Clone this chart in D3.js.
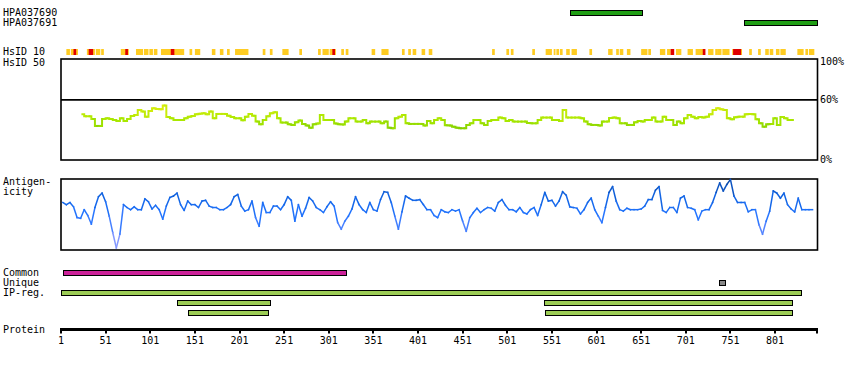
<!DOCTYPE html>
<html>
<head>
<meta charset="utf-8">
<script src="https://cdn.jsdelivr.net/npm/d3@7"></script>
<style>
  body { margin: 0; background: #fff; }
  svg text { font-family: 'DejaVu Sans Mono', monospace; font-size: 10px; fill: #000; }
</style>
</head>
<body>
<svg id="antigen" width="850" height="370"></svg>
<script>
const proteinLength = 848
const tickLabels = [1, 51, 101, 151, 201, 251, 301, 351, 401, 451, 501, 551, 601, 651, 701, 751, 801]

// antibodies: name, first and last residue
const antibodyNames = ['HPA037690', 'HPA037691']
const antibodyFrom = [572, 767]
const antibodyTo = [652, 848]

// HsID 10 strip, residue ranges
const hsid10Yellow = [[7, 10], [12, 19], [30, 38], [40, 44], [46, 48], [68, 76], [85, 92], [94, 98], [100, 103], [105, 108],
  [113, 138], [145, 147], [151, 156], [170, 173], [179, 182], [187, 189], [196, 210], [227, 229], [235, 237], [249, 255],
  [268, 270], [289, 291], [294, 300], [302, 308], [315, 317], [320, 322], [349, 352], [360, 367], [383, 385], [390, 392],
  [395, 398], [405, 408], [413, 416], [484, 486], [500, 502], [505, 507], [529, 531], [544, 550], [553, 554], [556, 558],
  [560, 562], [567, 570], [573, 578], [593, 595], [614, 618], [623, 625], [627, 630], [635, 638], [651, 657], [659, 661],
  [672, 677], [680, 683], [690, 695], [703, 708], [712, 720], [726, 731], [734, 736], [737, 740], [742, 749], [753, 763],
  [772, 774], [782, 784], [790, 793], [795, 798], [802, 805], [807, 812], [826, 832], [835, 837], [839, 844]]
const hsid10Red = [[15, 17], [32, 36], [73, 75], [124, 127], [305, 307], [684, 687], [720, 722], [754, 762]]

// HsID 50 identity (%), every 4 residues from residue 25
const hsid50Start = 25
const hsid50Values = [
  45.8, 43.8, 43.8, 41.1, 34.2, 34.2, 41.1, 41.8, 41.1, 40.1,
  39.1, 41.8, 39.1, 41.1, 44.1, 45.1, 50.1, 48.4, 43.4, 49.1,
  51.7, 51.1, 50.7, 54.4, 43.1, 41.8, 40.1, 40.1, 40.1, 41.8,
  43.4, 44.1, 45.8, 46.4, 46.8, 45.8, 48.4, 41.8, 46.1, 46.1,
  46.1, 44.4, 43.1, 41.8, 41.8, 39.8, 43.4, 46.1, 44.4, 38.5,
  35.8, 40.1, 43.8, 46.8, 47.7, 41.8, 37.5, 37.5, 35.8, 35.2,
  37.8, 39.5, 36.2, 34.5, 32.5, 35.8, 36.5, 45.1, 40.1, 40.1,
  40.1, 36.5, 35.8, 35.5, 38.5, 41.8, 41.8, 38.5, 38.5, 40.1,
  36.8, 38.5, 38.5, 38.5, 36.8, 38.5, 32.5, 31.9, 41.8, 43.4,
  45.1, 36.8, 36.2, 36.2, 36.2, 36.2, 34.5, 39.1, 36.8, 40.1,
  41.8, 40.1, 34.8, 34.5, 33.5, 32.5, 31.9, 31.9, 35.2, 36.8,
  40.1, 40.1, 36.8, 35.2, 39.1, 40.1, 40.1, 42.5, 41.8, 39.1,
  40.1, 38.5, 38.5, 38.5, 38.5, 37.2, 36.8, 36.8, 40.1, 42.5,
  42.5, 42.5, 40.1, 40.1, 39.1, 50.1, 42.5, 42.5, 42.5, 42.5,
  41.8, 38.5, 35.8, 35.2, 35.2, 34.5, 38.5, 38.5, 42.1, 42.5,
  41.8, 36.8, 36.8, 35.2, 35.2, 37.8, 39.1, 38.5, 40.1, 40.1,
  42.5, 38.5, 38.5, 43.4, 40.1, 40.1, 35.2, 38.5, 36.8, 41.8,
  45.1, 43.4, 41.8, 43.1, 42.5, 43.4, 45.8, 50.1, 51.7, 50.7,
  50.1, 41.8, 40.8, 42.8, 43.4, 43.4, 45.8, 46.1, 45.8, 40.8,
  36.8, 33.5, 35.8, 36.2, 41.8, 35.2, 43.1, 41.8, 40.1, 40.1
]

// antigenicity (relative, 0-100), every 4 residues from residue 3
const antigenStart = 3
const antigenValues = [
  66, 63, 66, 60, 45, 44, 56, 48, 36, 59, 74, 79, 67, 47, 24, 3, 22, 63, 59, 56,
  60, 56, 56, 71, 67, 57, 62, 56, 43, 61, 73, 75, 79, 63, 55, 68, 63, 63, 59, 68,
  69, 61, 59, 59, 56, 56, 59, 63, 74, 77, 61, 54, 56,
  68, 45, 33, 66, 52, 52, 61, 61, 56, 63, 74, 69, 40, 63, 47, 58, 73, 68, 59, 56,
  52, 60, 67, 61, 38, 29, 40, 47, 57, 74, 63, 56, 52, 66, 56, 54, 70, 81, 80, 66,
  47, 29, 53, 75, 72, 69, 69, 70, 63, 56, 56, 48, 45,
  56, 53, 52, 56, 54, 56, 40, 26, 45, 52, 58, 52, 56, 59, 58, 54, 66, 70, 62, 56,
  56, 53, 59, 52, 50, 56, 59, 48, 63, 80, 68, 69, 61, 68, 81, 76, 60, 59, 58, 50,
  56, 66, 72, 56, 47, 38, 59, 80, 88, 68, 56, 54, 58,
  56, 56, 56, 57, 61, 70, 70, 83, 88, 55, 52, 59, 59, 52, 72, 75, 59, 58, 56, 42,
  54, 56, 56, 66, 80, 93, 82, 91, 98, 75, 66, 66, 66, 53, 56, 56, 35, 22, 40, 54,
  82, 79, 72, 79, 63, 57, 53, 72, 56, 56, 56, 56
]

// feature rows below the plots
const commonRegions = [[4, 321]]
const uniqueRegions = [[739, 746]]
const ipRegions = [[[1, 831]], [[131, 236], [543, 821]], [[144, 234], [544, 820]]]

const svg = d3.select('svg#antigen')
const x = d3.scaleLinear().domain([1, proteinLength]).range([61, 817])

const yHsid = d3.scaleLinear().domain([0, 100]).range([160.4, 59.6])
const yAntigen = d3.scaleLinear().domain([0, 100]).range([250, 178])

const hsidColour = d3.scaleLinear().domain([30, 40, 55]).range(['#7ccc00', '#a8e800', '#e2ee10']).clamp(true)
const antigenColour = d3.scaleLinear()
  .domain([0, 25, 50, 75, 100])
  .range(['#a8a8ff', '#6088ff', '#2274ff', '#0f62e0', '#0a449e'])
  .clamp(true)

// left labels
const labels = [
  ['HPA037690', 16], ['HPA037691', 26], ['HsID 10', 55], ['HsID 50', 66],
  ['Antigen-', 185], ['icity', 195], ['Common', 276], ['Unique', 286], ['IP-reg.', 296], ['Protein', 333]
]
svg.selectAll('text.label')
  .data(labels)
  .join('text')
  .classed('label', true)
  .attr('x', 3)
  .attr('y', d => d[1])
  .text(d => d[0])

// antibody bars
function featureBar (sel, from, to, y, fill) {
  sel.append('rect')
    .attr('x', x(from))
    .attr('y', y)
    .attr('width', x(to) - x(from))
    .attr('height', 5)
    .attr('fill', fill)
    .attr('stroke', '#000')
    .attr('stroke-width', 1)
    .attr('shape-rendering', 'crispEdges')
}
antibodyNames.forEach((name, i) => featureBar(svg, antibodyFrom[i], antibodyTo[i], 10.5 + i * 10, '#1f9e14'))

// HsID 10 strip
function strip (ranges, colour) {
  svg.append('g').selectAll('rect')
    .data(ranges)
    .join('rect')
    .attr('x', d => x(d[0]))
    .attr('y', 49)
    .attr('width', d => x(d[1] + 1) - x(d[0]))
    .attr('height', 6)
    .attr('fill', colour)
}
strip(hsid10Yellow, '#ffcc22')
strip(hsid10Red, '#e00000')

// HsID 50 panel
svg.append('rect')
  .attr('x', 61).attr('y', 59)
  .attr('width', x(proteinLength) - 61 + 0.5).attr('height', 101)
  .attr('fill', 'none').attr('stroke', '#000').attr('stroke-width', 1.6)
svg.append('line')
  .attr('x1', 61).attr('x2', x(proteinLength) + 0.5)
  .attr('y1', yHsid(60)).attr('y2', yHsid(60))
  .attr('stroke', '#000').attr('stroke-width', 1.6)
svg.selectAll('text.pct')
  .data([[100, 65], [60, 103], [0, 163]])
  .join('text')
  .classed('pct', true)
  .attr('x', 820)
  .attr('y', d => d[1])
  .text(d => `${d[0]}%`)

function colouredLine (values, start, y, colour, width, curve) {
  const line = d3.line().curve(curve).x(d => x(d[0])).y(d => y(d[1]))
  const pts = values.map((v, i) => [start + i * 4, v])
  const segs = d3.pairs(pts)
  svg.append('g').selectAll('path')
    .data(segs)
    .join('path')
    .attr('d', d => line(d))
    .attr('fill', 'none')
    .attr('stroke', d => colour((d[0][1] + d[1][1]) / 2))
    .attr('stroke-width', width)
    .attr('stroke-linecap', 'square')
}
colouredLine(hsid50Values, hsid50Start, yHsid, hsidColour, 2, d3.curveStep)

// antigenicity panel
svg.append('rect')
  .attr('x', 61).attr('y', 179)
  .attr('width', x(proteinLength) - 61 + 0.5).attr('height', 71)
  .attr('fill', 'none').attr('stroke', '#000').attr('stroke-width', 1.6)
colouredLine(antigenValues, antigenStart, yAntigen, antigenColour, 1.5, d3.curveLinear)

// common / unique / IP-reg rows
commonRegions.forEach(r => featureBar(svg, r[0], r[1], 270.5, '#cc2299'))
uniqueRegions.forEach(r => featureBar(svg, r[0], r[1], 280.5, '#888888'))
ipRegions.forEach((row, i) => row.forEach(r => featureBar(svg, r[0], r[1], 290.5 + i * 10, '#9ccc55')))

// protein axis
svg.append('line')
  .attr('x1', x(1) - 1).attr('x2', x(proteinLength) + 1)
  .attr('y1', 329.5).attr('y2', 329.5)
  .attr('stroke', '#000').attr('stroke-width', 3)
const ticks = svg.append('g')
ticks.selectAll('line')
  .data(tickLabels.concat([proteinLength]))
  .join('line')
  .attr('x1', d => Math.round(x(d))).attr('x2', d => Math.round(x(d)))
  .attr('y1', 329).attr('y2', 333.5)
  .attr('stroke', '#000').attr('stroke-width', 2)
ticks.selectAll('text')
  .data(tickLabels)
  .join('text')
  .attr('x', d => x(d))
  .attr('y', 344)
  .attr('text-anchor', 'middle')
  .text(d => d)
</script>
</body>
</html>
